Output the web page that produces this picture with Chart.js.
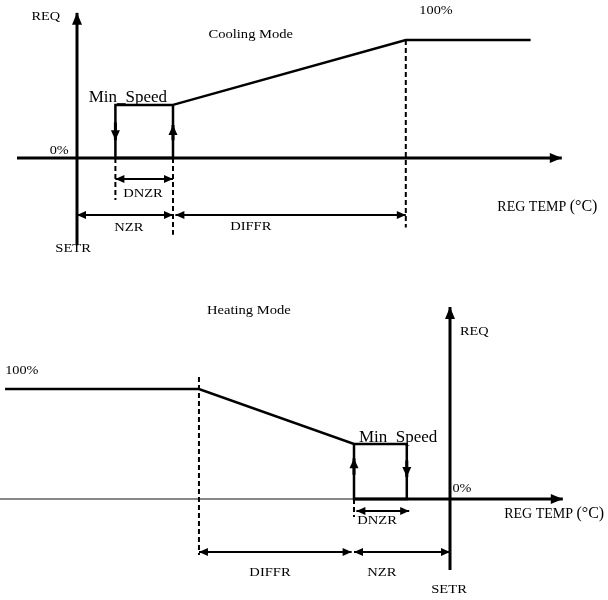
<!DOCTYPE html>
<html>
<head>
<meta charset="utf-8">
<script src="https://cdn.jsdelivr.net/npm/chart.js@4/dist/chart.umd.min.js"></script>
<style>
  html, body { margin: 0; padding: 0; background: #fff; }
  #wrap { position: relative; width: 608px; height: 600px; }
  canvas { position: absolute; left: 0; }
</style>
</head>
<body>
<div id="wrap">
  <canvas id="cool" width="608" height="290" style="top:0"></canvas>
  <canvas id="heat" width="608" height="310" style="top:290px"></canvas>
</div>
<script>
// ---------------- DATA ----------------
// x = REG TEMP (°C, relative to SETR), y = REQ (%)
const zoneNames = ['SETR', 'NZR', 'DNZR', 'DIFFR'];

// Cooling mode
const coolZoneWidth = [0, 2, 1.2, 4.85];          // SETR, NZR, DNZR, DIFFR
const coolCurveTemp = [2, 0.8, 0.8, 2, 2, 6.85, 9.45];
const coolCurveReq  = [45, 45, 0, 0, 45, 100, 100];
const coolAxisTemp  = [-1.25, 10.1];
const coolAxisReq   = [-74, 123];

// Heating mode
const heatZoneWidth = [0, 2, 1.1, 3.23];           // SETR, NZR, DNZR, DIFFR
const heatCurveTemp = [-9.27, -5.23, -2, -0.9, -0.9, -2, -2];
const heatCurveReq  = [100, 100, 50, 50, 0, 0, 50];
const heatAxisTemp  = [-9.375, 2.35];
const heatAxisReq   = [-64.5, 174.5];

const reqTicks = ['0%', '100%'];
const modeTitles = ['Cooling Mode', 'Heating Mode'];
const axisTitles = ['REQ', 'REG TEMP '];

// ---------------- HELPERS ----------------
const BLACK = '#000';
const SERIF = '"Liberation Serif", "Times New Roman", serif';

function pts(xs, ys) { return xs.map((x, i) => ({ x: x, y: ys[i] })); }
function seg(x1, y1, x2, y2, extra) {
  return Object.assign({
    data: [{ x: x1, y: y1 }, { x: x2, y: y2 }],
    borderColor: BLACK, borderWidth: 2, pointRadius: 0, tension: 0,
    fill: false, clip: false, borderCapStyle: 'butt'
  }, extra || {});
}

function drawHead(ctx, from, to, len, half) {
  const a = Math.atan2(to.y - from.y, to.x - from.x);
  ctx.save();
  ctx.translate(to.x, to.y);
  ctx.rotate(a);
  ctx.beginPath();
  ctx.moveTo(0, 0);
  ctx.lineTo(-len, half);
  ctx.lineTo(-len, -half);
  ctx.closePath();
  ctx.fillStyle = BLACK;
  ctx.fill();
  ctx.restore();
}

const arrowPlugin = {
  id: 'arrowHeads',
  afterDatasetsDraw(chart) {
    const ctx = chart.ctx;
    chart.data.datasets.forEach((ds, i) => {
      const p = chart.getDatasetMeta(i).data;
      if (p.length < 2) return;
      const s = ds.headSize || [9, 4];
      if (ds.arrowEnd) drawHead(ctx, p[p.length - 2], p[p.length - 1], s[0], s[1]);
      if (ds.arrowStart) drawHead(ctx, p[1], p[0], s[0], s[1]);
    });
  }
};

function textPlugin(items) {
  return {
    id: 'labels',
    afterDraw(chart) {
      const ctx = chart.ctx;
      const xs = chart.scales.x, ys = chart.scales.y;
      items.forEach(t => {
        ctx.save();
        ctx.translate(xs.getPixelForValue(t.x), ys.getPixelForValue(t.y));
        ctx.scale(t.sx || 1, 1);
        ctx.fillStyle = BLACK;
        ctx.textBaseline = t.baseline || 'middle';
        if (t.parts) {
          let w = 0;
          t.parts.forEach(pt => { ctx.font = pt.font; w += ctx.measureText(pt.text).width; });
          let cx = t.align === 'left' ? 0 : -w / 2;
          ctx.textAlign = 'left';
          t.parts.forEach(pt => { ctx.font = pt.font; ctx.fillText(pt.text, cx, 0); cx += ctx.measureText(pt.text).width; });
        } else {
          ctx.font = t.font;
          ctx.textAlign = t.align || 'center';
          ctx.fillText(t.text, 0, 0);
        }
        ctx.restore();
      });
    }
  };
}

function baseOptions(xmin, xmax, ymin, ymax) {
  return {
    responsive: false, animation: false, events: [],
    layout: { padding: 0 },
    plugins: { legend: { display: false }, tooltip: { enabled: false }, title: { display: false } },
    scales: {
      x: { type: 'linear', display: false, min: xmin, max: xmax },
      y: { type: 'linear', display: false, min: ymin, max: ymax }
    }
  };
}

const F13 = '13px ' + SERIF;
const F14 = '14px ' + SERIF;
const F16 = '16px ' + SERIF;
const F17 = '17px ' + SERIF;

// ---------------- COOLING ----------------
(function () {
  const nzr = coolZoneWidth[1], dnzr = coolZoneWidth[2], diffr = coolZoneWidth[3];
  const setr = coolZoneWidth[0];
  const dStart = nzr - dnzr, dEnd = nzr + diffr;
  const datasets = [
    // axes
    seg(coolAxisTemp[0], 0, coolAxisTemp[1], 0, { borderWidth: 3, arrowEnd: true, headSize: [12, 5] }),
    seg(setr, coolAxisReq[0], setr, coolAxisReq[1], { borderWidth: 3, arrowEnd: true, headSize: [12, 5] }),
    // regulation curve
    { data: pts(coolCurveTemp, coolCurveReq), borderColor: BLACK, borderWidth: 2.5, pointRadius: 0,
      tension: 0, fill: false, clip: false, borderJoinStyle: 'miter' },
    // hysteresis arrows
    seg(dStart, 30, dStart, 15, { borderWidth: 3, arrowEnd: true, headSize: [10, 4.5] }),
    seg(nzr, 15, nzr, 28, { borderWidth: 3, arrowEnd: true, headSize: [10, 4.5] }),
    // dashed guides
    seg(dStart, 0, dStart, -35.6, { borderDash: [5, 3] }),
    seg(nzr, 0, nzr, -65, { borderDash: [5, 3] }),
    seg(dEnd, 100, dEnd, -59, { borderDash: [5, 3] }),
    // dimension arrows
    seg(dStart, -17.8, nzr, -17.8, { arrowStart: true, arrowEnd: true }),
    seg(setr, -48.3, nzr, -48.3, { arrowStart: true, arrowEnd: true }),
    seg(nzr + 0.05, -48.3, dEnd, -48.3, { arrowStart: true, arrowEnd: true })
  ];
  const labels = [
    { text: axisTitles[0], x: -0.65, y: 119.5, font: F13, sx: 1.1 },
    { text: modeTitles[0], x: 3.62, y: 105, font: F13, sx: 1.12 },
    { text: reqTicks[1], x: 7.48, y: 124.6, font: F13, sx: 1.1 },
    { text: reqTicks[0], x: -0.37, y: 5.9, font: F13, sx: 1.1 },
    { text: 'Min_Speed', x: 1.06, y: 47.5, font: F17, baseline: 'alphabetic' },
    { text: zoneNames[2], x: 1.375, y: -30.5, font: F13, sx: 1.12 },
    { text: zoneNames[1], x: 1.08, y: -59.3, font: F13, sx: 1.12 },
    { text: zoneNames[3], x: 3.62, y: -58.5, font: F13, sx: 1.12 },
    { text: zoneNames[0], x: -0.08, y: -77, font: F13, sx: 1.12 },
    { parts: [{ text: axisTitles[1], font: F14 }, { text: '(°C)', font: F16 }], x: 9.8, y: -41.5 }
  ];
  new Chart(document.getElementById('cool'), {
    type: 'line',
    data: { datasets: datasets },
    options: baseOptions(-77 / 48, 531 / 48, -(290 - 158) / 1.18, 158 / 1.18),
    plugins: [arrowPlugin, textPlugin(labels)]
  });
})();

// ---------------- HEATING ----------------
(function () {
  const nzr = heatZoneWidth[1], dnzr = heatZoneWidth[2], diffr = heatZoneWidth[3];
  const setr = heatZoneWidth[0];
  const dStart = -nzr, dEnd = -nzr + dnzr, fEnd = -nzr - diffr;
  const datasets = [
    // axes: thin left part, thick right part
    seg(heatAxisTemp[0], 0, -nzr, 0, { borderWidth: 1.2, borderColor: '#111' }),
    seg(-nzr, 0, heatAxisTemp[1], 0, { borderWidth: 3, arrowEnd: true, headSize: [12, 5] }),
    seg(setr, heatAxisReq[0], setr, heatAxisReq[1], { borderWidth: 3, arrowEnd: true, headSize: [12, 5] }),
    // regulation curve
    { data: pts(heatCurveTemp, heatCurveReq), borderColor: BLACK, borderWidth: 2.5, pointRadius: 0,
      tension: 0, fill: false, clip: false, borderJoinStyle: 'miter' },
    // hysteresis arrows
    seg(dStart, 22, dStart, 37, { borderWidth: 3, arrowEnd: true, headSize: [10, 4.5] }),
    seg(dEnd, 35, dEnd, 20, { borderWidth: 3, arrowEnd: true, headSize: [10, 4.5] }),
    // dashed guides
    seg(fEnd, 111, fEnd, -51, { borderDash: [5, 3] }),
    seg(dStart, 0, dStart, -16.4, { borderDash: [5, 3] }),
    // dimension arrows
    seg(dStart + 0.05, -10.9, dEnd + 0.05, -10.9, { arrowStart: true, arrowEnd: true }),
    seg(fEnd, -48.2, dStart - 0.05, -48.2, { arrowStart: true, arrowEnd: true }),
    seg(dStart, -48.2, setr, -48.2, { arrowStart: true, arrowEnd: true })
  ];
  const labels = [
    { text: modeTitles[1], x: -4.19, y: 170.9, font: F13, sx: 1.12 },
    { text: reqTicks[1], x: -8.92, y: 116.4, font: F13, sx: 1.1 },
    { text: axisTitles[0], x: 0.21, y: 151.8, font: F13, sx: 1.1, align: 'left' },
    { text: 'Min_Speed', x: -1.08, y: 51.8, font: F17, baseline: 'alphabetic' },
    { text: reqTicks[0], x: 0.25, y: 9.1, font: F13, sx: 1.1 },
    { parts: [{ text: axisTitles[1], font: F14 }, { text: '(°C)', font: F16 }], x: 2.17, y: -13.6 },
    { text: zoneNames[2], x: -1.52, y: -20, font: F13, sx: 1.12 },
    { text: zoneNames[3], x: -3.75, y: -67.3, font: F13, sx: 1.12 },
    { text: zoneNames[1], x: -1.42, y: -67.3, font: F13, sx: 1.12 },
    { text: zoneNames[0], x: -0.02, y: -82.7, font: F13, sx: 1.12 }
  ];
  new Chart(document.getElementById('heat'), {
    type: 'line',
    data: { datasets: datasets },
    options: baseOptions(-450 / 48, 158 / 48, -(310 - 209) / 1.1, 209 / 1.1),
    plugins: [arrowPlugin, textPlugin(labels)]
  });
})();
</script>
</body>
</html>
